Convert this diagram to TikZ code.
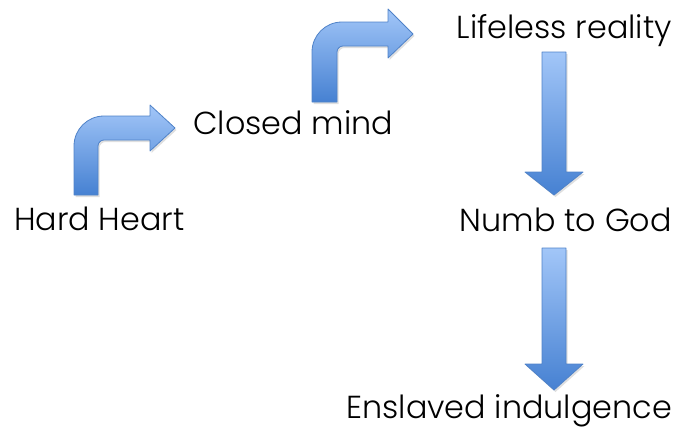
\documentclass[tikz,border=0pt]{standalone}
\usepackage{fontspec}
\setmainfont{Poppins Light}
\usetikzlibrary{shadows}
\definecolor{arrtop}{HTML}{A2C6F8}
\definecolor{arrbot}{HTML}{4681D2}
\definecolor{arredge}{HTML}{4F82C8}
\tikzset{
  lbl/.style={font=\fontsize{31.8}{36}\selectfont, text=black, inner sep=0pt},
  arrowshape/.style={draw=arredge, line width=0.8pt, line join=round, top color=arrtop, bottom color=arrbot,
    drop shadow={shadow xshift=1.5pt, shadow yshift=-2pt, opacity=0.25}}
}
\begin{document}
\begin{tikzpicture}[x=1pt,y=-1pt]
\useasboundingbox (0,0) rectangle (675,429);
% labels
\node[lbl, anchor=base west] (hard) at (14,230) {Hard Heart};
\node[lbl, anchor=base west] (closed) at (193,134) {Closed mind};
\node[lbl, anchor=base east] (lifeless) at (672,38) {Lifeless reality};
\node[lbl, anchor=base east] (numb) at (672,231) {Numb to God};
\node[lbl, anchor=base east] (enslaved) at (672,418) {Enslaved indulgence};
% bent arrow 1
\path[arrowshape] (74,195) -- (74,146) .. controls (74,129.4) and (87.4,116) .. (104,116)
  -- (150,116) -- (150,105) -- (175,128) -- (150,151) -- (150,140) -- (104,140)
  .. controls (100.7,140) and (98,142.7) .. (98,146) -- (98,195) -- cycle;
% bent arrow 2
\path[arrowshape] (312,102) -- (312,52) .. controls (312,35.4) and (325.4,22) .. (342,22)
  -- (388,22) -- (388,9) -- (413,34) -- (388,58) -- (388,46) -- (343,46)
  .. controls (339.7,46) and (337,48.7) .. (337,52) -- (337,102) -- cycle;
% down arrow 1
\path[arrowshape] (542,52) -- (566,52) -- (566,172) -- (583,172) -- (554,195) -- (525,172) -- (542,172) -- cycle;
% down arrow 2
\path[arrowshape] (542,248) -- (566,248) -- (566,364) -- (583,364) -- (554,390) -- (525,364) -- (542,364) -- cycle;
\end{tikzpicture}
\end{document}
